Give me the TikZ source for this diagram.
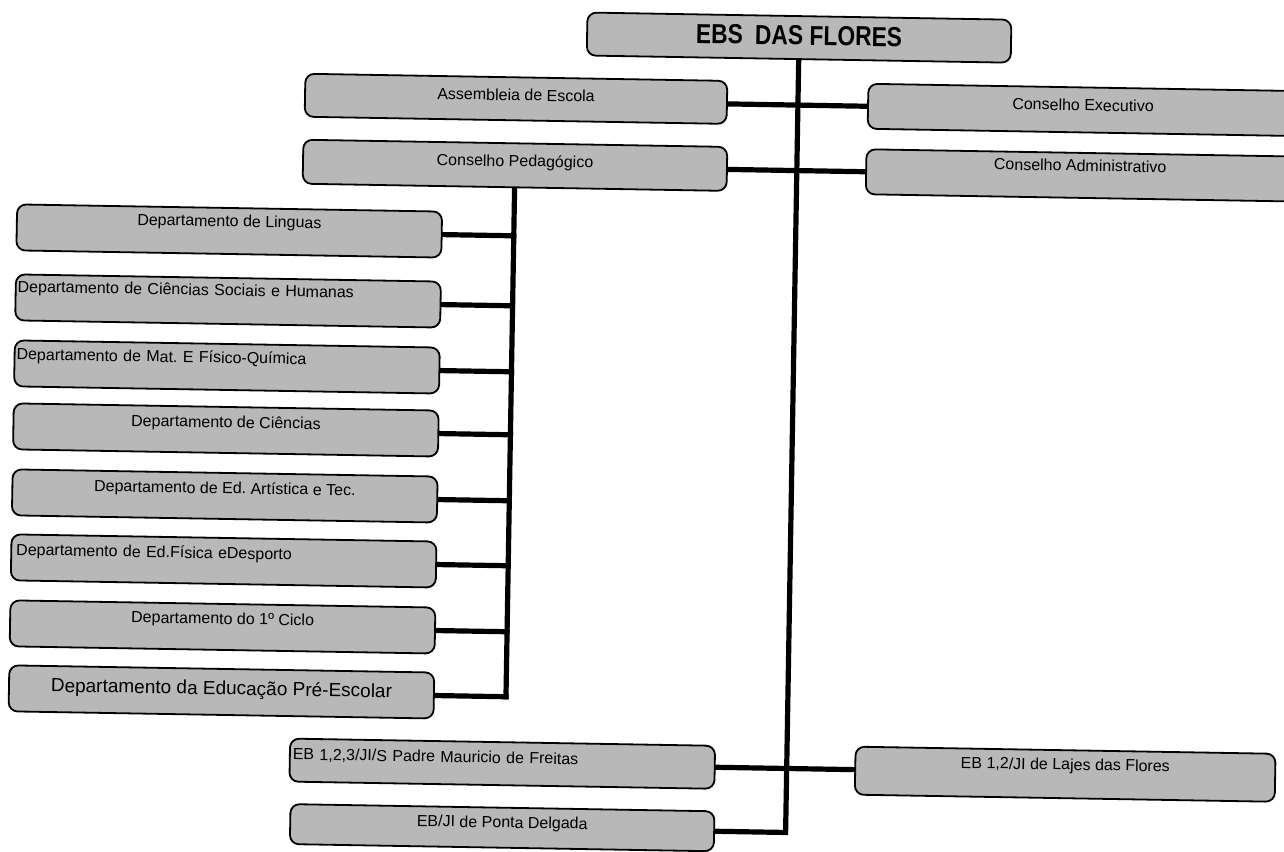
\documentclass[tikz,border=0pt]{standalone}
\usepackage{fontspec}
\setmainfont{Liberation Sans}
\newfontfamily\ttlfont{Liberation Sans}[FakeStretch=0.83]
\usetikzlibrary{calc,backgrounds}
\definecolor{boxgray}{gray}{0.72}
\frenchspacing
\begin{document}
\begin{tikzpicture}[x=1pt,y=-1pt,
  box/.style={draw=black,line width=1.8pt,fill=boxgray,rounded corners=9pt,inner sep=0pt,
    font=\fontsize{16}{19}\selectfont\frenchspacing,transform shape,text height=14pt,
    minimum width=425pt,minimum height=46pt},
  conn/.style={line width=5.2pt,line cap=rect,draw=black}]
\path[use as bounding box] (0,0) rectangle (1284,851);
\begin{pgfonlayer}{background}
\fill[white] (0,0) rectangle (1284,851);
\end{pgfonlayer}
\begin{scope}[rotate around={-0.97:(642,425)}]
% top
\node[box,minimum width=424pt,minimum height=43pt,text height=20pt,text depth=5.3pt] (title) at (792.5,35)
  {\ttlfont\bfseries\fontsize{27.5}{30}\selectfont EBS\hspace{12pt}DAS FLORES};
\node[box,minimum width=422pt,minimum height=43pt,text depth=10.5pt] (assem) at (510.5,101) {Assembleia de Escola};
\node[box,minimum width=424pt,minimum height=44pt,text depth=11.5pt] (ped) at (510.6,167.5) {Conselho Pedagógico};
\node[box,minimum width=430pt,minimum height=45pt,text depth=12.5pt] (exec) at (1077.6,102.5) {Conselho Executivo};
\node[box,minimum width=428pt,minimum height=45pt,text depth=22.5pt] (admin) at (1075.8,168) {Conselho Administrativo};
% departments
\node[box,text depth=22.5pt] (d1) at (226,238) {Departamento de Linguas};
\node[box,text depth=24.5pt,inner xsep=2pt,text width=421pt,align=left] (d2) at (226,308) {Departamento de Ciências Sociais e Humanas};
\node[box,text depth=21.5pt,inner xsep=2pt,text width=421pt,align=left] (d3) at (226,374) {Departamento de Mat. E Físico-Química};
\node[box,text depth=18.5pt] (d4) at (226,437) {Departamento de Ciências};
\node[box,text depth=18.5pt] (d5) at (226,503) {Departamento de Ed. Artística e Tec.};
\node[box,text depth=18.5pt,inner xsep=5pt,text width=415pt,align=left] (d6) at (226,568) {Departamento de Ed.Física eDesporto};
\node[box,text depth=19.5pt] (d7) at (226,634) {Departamento do 1º Ciclo};
\node[box,text depth=8.4pt,font=\fontsize{19}{22}\selectfont] (d8) at (226,699) {Departamento da Educação Pré-Escolar};
% schools
\node[box,minimum height=43pt,text depth=15pt,inner xsep=3pt,text width=419pt,align=left] (eb) at (508,766) {EB 1,2,3/JI/S Padre Mauricio de Freitas};
\node[box,minimum width=424pt,minimum height=40pt,text depth=13.7pt] (pd) at (509,830) {EB/JI de Ponta Delgada};
\node[box,minimum width=420pt,minimum height=48pt,text depth=22.5pt] (lajes) at (1071,767) {EB 1,2/JI de Lajes das Flores};
% connectors
\begin{pgfonlayer}{background}
\coordinate (tend) at ($(title.south)!(pd.east)!(title.north)$);
\draw[conn] (title.south) -- (tend) -- (pd.east);
\draw[conn] ($(exec.west)!(assem.east)!(exec.east)$) -- (exec.west);
\draw[conn] ($(admin.west)!(ped.east)!(admin.east)$) -- (admin.west);
\draw[conn] (eb.east) -- ($(eb.west)!(lajes.west)!(eb.east)$);
\draw[conn] (ped.south) -- ($(ped.south)!(d8.east)!(ped.north)$);
\foreach \d in {d1,d2,d3,d4,d5,d6,d7,d8}
  \draw[conn] (\d.east) -- ($(ped.south)!(\d.east)!(ped.north)$);
\end{pgfonlayer}
\end{scope}
\end{tikzpicture}
\end{document}
